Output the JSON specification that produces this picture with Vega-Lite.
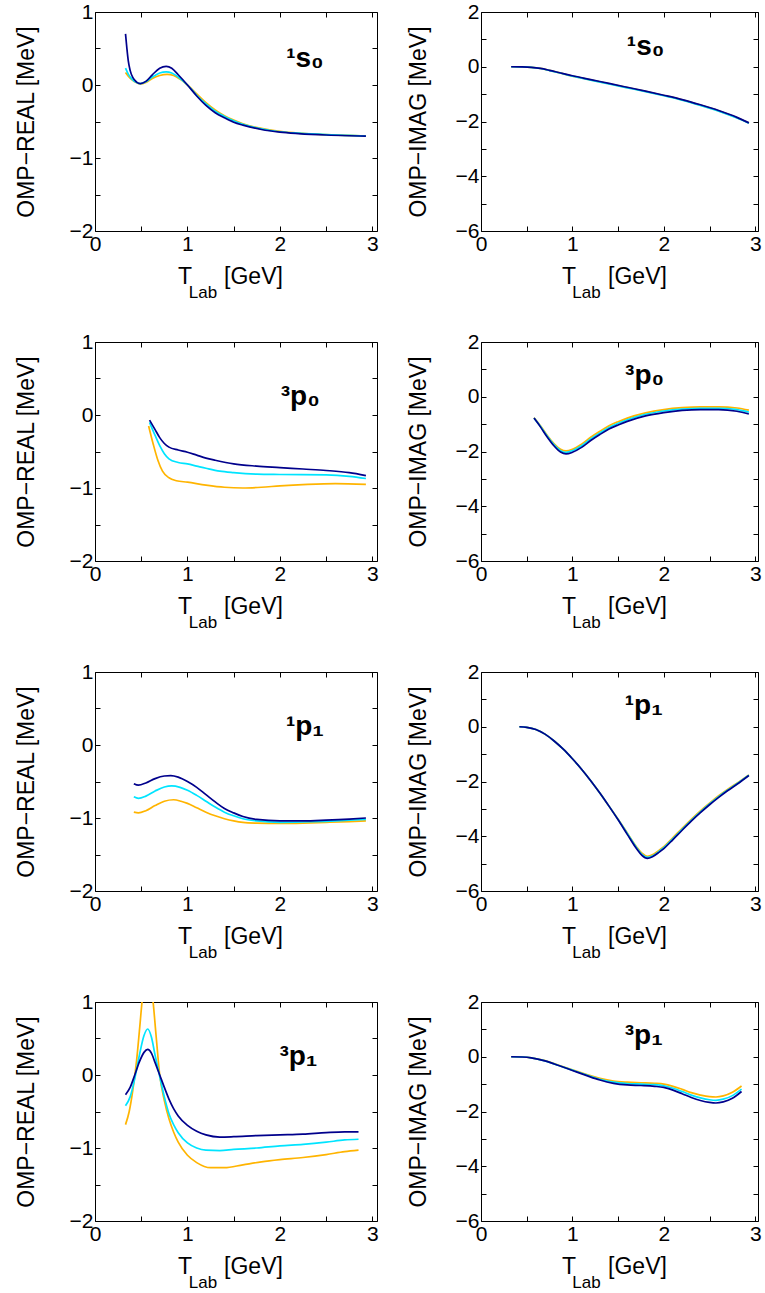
{
  "$schema": "https://vega.github.io/schema/vega-lite/v6.json",
  "padding": {"left": 14, "top": 0, "right": 0, "bottom": 0},
  "background": "white",
  "data": {"values": [
    {"p":1,"s":"a","T":0.33,"V":0.17},{"p":1,"s":"a","T":0.36,"V":0.12},{"p":1,"s":"a","T":0.4,"V":0.07},{"p":1,"s":"a","T":0.45,"V":0.03},{"p":1,"s":"a","T":0.49,"V":0.015},{"p":1,"s":"a","T":0.55,"V":0.035},{"p":1,"s":"a","T":0.62,"V":0.09},{"p":1,"s":"a","T":0.7,"V":0.13},{"p":1,"s":"a","T":0.78,"V":0.145},{"p":1,"s":"a","T":0.85,"V":0.13},{"p":1,"s":"a","T":0.92,"V":0.08},{"p":1,"s":"a","T":1.0,"V":0.0},{"p":1,"s":"a","T":1.1,"V":-0.12},{"p":1,"s":"a","T":1.2,"V":-0.24},{"p":1,"s":"a","T":1.3,"V":-0.34},{"p":1,"s":"a","T":1.4,"V":-0.42},{"p":1,"s":"a","T":1.5,"V":-0.48},{"p":1,"s":"a","T":1.6,"V":-0.53},{"p":1,"s":"a","T":1.8,"V":-0.595},{"p":1,"s":"a","T":2.0,"V":-0.635},{"p":1,"s":"a","T":2.2,"V":-0.66},{"p":1,"s":"a","T":2.5,"V":-0.68},{"p":1,"s":"a","T":2.75,"V":-0.69},{"p":1,"s":"a","T":2.93,"V":-0.7},
    {"p":1,"s":"b","T":0.33,"V":0.23},{"p":1,"s":"b","T":0.36,"V":0.15},{"p":1,"s":"b","T":0.4,"V":0.08},{"p":1,"s":"b","T":0.45,"V":0.035},{"p":1,"s":"b","T":0.49,"V":0.02},{"p":1,"s":"b","T":0.55,"V":0.045},{"p":1,"s":"b","T":0.62,"V":0.11},{"p":1,"s":"b","T":0.7,"V":0.165},{"p":1,"s":"b","T":0.77,"V":0.18},{"p":1,"s":"b","T":0.83,"V":0.165},{"p":1,"s":"b","T":0.9,"V":0.11},{"p":1,"s":"b","T":1.0,"V":0.0},{"p":1,"s":"b","T":1.1,"V":-0.14},{"p":1,"s":"b","T":1.2,"V":-0.26},{"p":1,"s":"b","T":1.3,"V":-0.36},{"p":1,"s":"b","T":1.4,"V":-0.43},{"p":1,"s":"b","T":1.5,"V":-0.49},{"p":1,"s":"b","T":1.6,"V":-0.54},{"p":1,"s":"b","T":1.8,"V":-0.6},{"p":1,"s":"b","T":2.0,"V":-0.64},{"p":1,"s":"b","T":2.2,"V":-0.66},{"p":1,"s":"b","T":2.5,"V":-0.68},{"p":1,"s":"b","T":2.75,"V":-0.69},{"p":1,"s":"b","T":2.93,"V":-0.7},
    {"p":1,"s":"c","T":0.33,"V":0.7},{"p":1,"s":"c","T":0.345,"V":0.5},{"p":1,"s":"c","T":0.36,"V":0.33},{"p":1,"s":"c","T":0.38,"V":0.2},{"p":1,"s":"c","T":0.41,"V":0.1},{"p":1,"s":"c","T":0.45,"V":0.04},{"p":1,"s":"c","T":0.49,"V":0.02},{"p":1,"s":"c","T":0.55,"V":0.05},{"p":1,"s":"c","T":0.62,"V":0.14},{"p":1,"s":"c","T":0.7,"V":0.23},{"p":1,"s":"c","T":0.77,"V":0.255},{"p":1,"s":"c","T":0.83,"V":0.23},{"p":1,"s":"c","T":0.9,"V":0.14},{"p":1,"s":"c","T":1.0,"V":0.0},{"p":1,"s":"c","T":1.1,"V":-0.15},{"p":1,"s":"c","T":1.2,"V":-0.28},{"p":1,"s":"c","T":1.3,"V":-0.38},{"p":1,"s":"c","T":1.4,"V":-0.45},{"p":1,"s":"c","T":1.5,"V":-0.51},{"p":1,"s":"c","T":1.6,"V":-0.55},{"p":1,"s":"c","T":1.8,"V":-0.61},{"p":1,"s":"c","T":2.0,"V":-0.645},{"p":1,"s":"c","T":2.2,"V":-0.665},{"p":1,"s":"c","T":2.5,"V":-0.685},{"p":1,"s":"c","T":2.75,"V":-0.695},{"p":1,"s":"c","T":2.93,"V":-0.7},

    {"p":2,"s":"a","T":0.33,"V":0},{"p":2,"s":"a","T":0.45,"V":-0.005},{"p":2,"s":"a","T":0.55,"V":-0.02},{"p":2,"s":"a","T":0.65,"V":-0.06},{"p":2,"s":"a","T":0.75,"V":-0.135},{"p":2,"s":"a","T":0.85,"V":-0.215},{"p":2,"s":"a","T":1.0,"V":-0.34},{"p":2,"s":"a","T":1.2,"V":-0.48},{"p":2,"s":"a","T":1.4,"V":-0.62},{"p":2,"s":"a","T":1.6,"V":-0.76},{"p":2,"s":"a","T":1.8,"V":-0.9},{"p":2,"s":"a","T":2.0,"V":-1.05},{"p":2,"s":"a","T":2.2,"V":-1.21},{"p":2,"s":"a","T":2.4,"V":-1.4},{"p":2,"s":"a","T":2.6,"V":-1.61},{"p":2,"s":"a","T":2.8,"V":-1.86},{"p":2,"s":"a","T":2.93,"V":-2.05},
    {"p":2,"s":"b","T":0.33,"V":0},{"p":2,"s":"b","T":0.45,"V":-0.005},{"p":2,"s":"b","T":0.55,"V":-0.02},{"p":2,"s":"b","T":0.65,"V":-0.065},{"p":2,"s":"b","T":0.75,"V":-0.14},{"p":2,"s":"b","T":0.85,"V":-0.22},{"p":2,"s":"b","T":1.0,"V":-0.345},{"p":2,"s":"b","T":1.2,"V":-0.49},{"p":2,"s":"b","T":1.4,"V":-0.63},{"p":2,"s":"b","T":1.6,"V":-0.77},{"p":2,"s":"b","T":1.8,"V":-0.91},{"p":2,"s":"b","T":2.0,"V":-1.06},{"p":2,"s":"b","T":2.2,"V":-1.22},{"p":2,"s":"b","T":2.4,"V":-1.41},{"p":2,"s":"b","T":2.6,"V":-1.62},{"p":2,"s":"b","T":2.8,"V":-1.87},{"p":2,"s":"b","T":2.93,"V":-2.06},
    {"p":2,"s":"c","T":0.33,"V":0},{"p":2,"s":"c","T":0.45,"V":-0.005},{"p":2,"s":"c","T":0.55,"V":-0.02},{"p":2,"s":"c","T":0.65,"V":-0.06},{"p":2,"s":"c","T":0.75,"V":-0.13},{"p":2,"s":"c","T":0.85,"V":-0.21},{"p":2,"s":"c","T":1.0,"V":-0.33},{"p":2,"s":"c","T":1.2,"V":-0.47},{"p":2,"s":"c","T":1.4,"V":-0.61},{"p":2,"s":"c","T":1.6,"V":-0.75},{"p":2,"s":"c","T":1.8,"V":-0.89},{"p":2,"s":"c","T":2.0,"V":-1.04},{"p":2,"s":"c","T":2.2,"V":-1.2},{"p":2,"s":"c","T":2.4,"V":-1.39},{"p":2,"s":"c","T":2.6,"V":-1.6},{"p":2,"s":"c","T":2.8,"V":-1.85},{"p":2,"s":"c","T":2.93,"V":-2.05},

    {"p":3,"s":"a","T":0.58,"V":-0.15},{"p":3,"s":"a","T":0.63,"V":-0.4},{"p":3,"s":"a","T":0.68,"V":-0.62},{"p":3,"s":"a","T":0.73,"V":-0.77},{"p":3,"s":"a","T":0.8,"V":-0.86},{"p":3,"s":"a","T":0.88,"V":-0.9},{"p":3,"s":"a","T":1.0,"V":-0.92},{"p":3,"s":"a","T":1.2,"V":-0.96},{"p":3,"s":"a","T":1.4,"V":-0.99},{"p":3,"s":"a","T":1.6,"V":-1.0},{"p":3,"s":"a","T":1.8,"V":-0.99},{"p":3,"s":"a","T":2.0,"V":-0.97},{"p":3,"s":"a","T":2.3,"V":-0.95},{"p":3,"s":"a","T":2.6,"V":-0.94},{"p":3,"s":"a","T":2.93,"V":-0.95},
    {"p":3,"s":"b","T":0.59,"V":-0.1},{"p":3,"s":"b","T":0.65,"V":-0.28},{"p":3,"s":"b","T":0.7,"V":-0.42},{"p":3,"s":"b","T":0.75,"V":-0.53},{"p":3,"s":"b","T":0.8,"V":-0.6},{"p":3,"s":"b","T":0.9,"V":-0.65},{"p":3,"s":"b","T":1.0,"V":-0.67},{"p":3,"s":"b","T":1.1,"V":-0.7},{"p":3,"s":"b","T":1.2,"V":-0.73},{"p":3,"s":"b","T":1.35,"V":-0.77},{"p":3,"s":"b","T":1.5,"V":-0.79},{"p":3,"s":"b","T":1.75,"V":-0.81},{"p":3,"s":"b","T":2.0,"V":-0.815},{"p":3,"s":"b","T":2.5,"V":-0.82},{"p":3,"s":"b","T":2.75,"V":-0.84},{"p":3,"s":"b","T":2.93,"V":-0.87},
    {"p":3,"s":"c","T":0.59,"V":-0.07},{"p":3,"s":"c","T":0.65,"V":-0.2},{"p":3,"s":"c","T":0.7,"V":-0.31},{"p":3,"s":"c","T":0.75,"V":-0.39},{"p":3,"s":"c","T":0.8,"V":-0.44},{"p":3,"s":"c","T":0.9,"V":-0.48},{"p":3,"s":"c","T":1.0,"V":-0.51},{"p":3,"s":"c","T":1.1,"V":-0.55},{"p":3,"s":"c","T":1.2,"V":-0.59},{"p":3,"s":"c","T":1.3,"V":-0.62},{"p":3,"s":"c","T":1.5,"V":-0.67},{"p":3,"s":"c","T":1.75,"V":-0.7},{"p":3,"s":"c","T":2.0,"V":-0.72},{"p":3,"s":"c","T":2.25,"V":-0.74},{"p":3,"s":"c","T":2.5,"V":-0.76},{"p":3,"s":"c","T":2.75,"V":-0.79},{"p":3,"s":"c","T":2.93,"V":-0.83},

    {"p":4,"s":"a","T":0.58,"V":-0.77},{"p":4,"s":"a","T":0.65,"V":-1.06},{"p":4,"s":"a","T":0.72,"V":-1.39},{"p":4,"s":"a","T":0.8,"V":-1.72},{"p":4,"s":"a","T":0.87,"V":-1.92},{"p":4,"s":"a","T":0.93,"V":-1.98},{"p":4,"s":"a","T":1.0,"V":-1.92},{"p":4,"s":"a","T":1.1,"V":-1.73},{"p":4,"s":"a","T":1.2,"V":-1.48},{"p":4,"s":"a","T":1.3,"V":-1.26},{"p":4,"s":"a","T":1.4,"V":-1.06},{"p":4,"s":"a","T":1.5,"V":-0.91},{"p":4,"s":"a","T":1.6,"V":-0.78},{"p":4,"s":"a","T":1.8,"V":-0.59},{"p":4,"s":"a","T":2.0,"V":-0.47},{"p":4,"s":"a","T":2.2,"V":-0.4},{"p":4,"s":"a","T":2.4,"V":-0.37},{"p":4,"s":"a","T":2.6,"V":-0.37},{"p":4,"s":"a","T":2.8,"V":-0.41},{"p":4,"s":"a","T":2.93,"V":-0.49},
    {"p":4,"s":"b","T":0.58,"V":-0.78},{"p":4,"s":"b","T":0.65,"V":-1.08},{"p":4,"s":"b","T":0.72,"V":-1.42},{"p":4,"s":"b","T":0.8,"V":-1.76},{"p":4,"s":"b","T":0.87,"V":-1.97},{"p":4,"s":"b","T":0.93,"V":-2.03},{"p":4,"s":"b","T":1.0,"V":-1.97},{"p":4,"s":"b","T":1.1,"V":-1.79},{"p":4,"s":"b","T":1.2,"V":-1.54},{"p":4,"s":"b","T":1.3,"V":-1.32},{"p":4,"s":"b","T":1.4,"V":-1.12},{"p":4,"s":"b","T":1.5,"V":-0.97},{"p":4,"s":"b","T":1.6,"V":-0.84},{"p":4,"s":"b","T":1.8,"V":-0.64},{"p":4,"s":"b","T":2.0,"V":-0.52},{"p":4,"s":"b","T":2.2,"V":-0.45},{"p":4,"s":"b","T":2.4,"V":-0.42},{"p":4,"s":"b","T":2.6,"V":-0.42},{"p":4,"s":"b","T":2.8,"V":-0.47},{"p":4,"s":"b","T":2.93,"V":-0.56},
    {"p":4,"s":"c","T":0.58,"V":-0.78},{"p":4,"s":"c","T":0.65,"V":-1.1},{"p":4,"s":"c","T":0.72,"V":-1.45},{"p":4,"s":"c","T":0.8,"V":-1.8},{"p":4,"s":"c","T":0.87,"V":-2.02},{"p":4,"s":"c","T":0.93,"V":-2.09},{"p":4,"s":"c","T":1.0,"V":-2.03},{"p":4,"s":"c","T":1.1,"V":-1.85},{"p":4,"s":"c","T":1.2,"V":-1.6},{"p":4,"s":"c","T":1.3,"V":-1.38},{"p":4,"s":"c","T":1.4,"V":-1.18},{"p":4,"s":"c","T":1.5,"V":-1.03},{"p":4,"s":"c","T":1.6,"V":-0.9},{"p":4,"s":"c","T":1.8,"V":-0.7},{"p":4,"s":"c","T":2.0,"V":-0.58},{"p":4,"s":"c","T":2.2,"V":-0.5},{"p":4,"s":"c","T":2.4,"V":-0.47},{"p":4,"s":"c","T":2.6,"V":-0.47},{"p":4,"s":"c","T":2.8,"V":-0.53},{"p":4,"s":"c","T":2.93,"V":-0.63},

    {"p":5,"s":"a","T":0.42,"V":-0.92},{"p":5,"s":"a","T":0.47,"V":-0.93},{"p":5,"s":"a","T":0.55,"V":-0.9},{"p":5,"s":"a","T":0.65,"V":-0.83},{"p":5,"s":"a","T":0.75,"V":-0.77},{"p":5,"s":"a","T":0.85,"V":-0.75},{"p":5,"s":"a","T":0.93,"V":-0.77},{"p":5,"s":"a","T":1.0,"V":-0.8},{"p":5,"s":"a","T":1.1,"V":-0.86},{"p":5,"s":"a","T":1.2,"V":-0.92},{"p":5,"s":"a","T":1.3,"V":-0.97},{"p":5,"s":"a","T":1.4,"V":-1.01},{"p":5,"s":"a","T":1.5,"V":-1.04},{"p":5,"s":"a","T":1.6,"V":-1.06},{"p":5,"s":"a","T":1.75,"V":-1.07},{"p":5,"s":"a","T":2.0,"V":-1.075},{"p":5,"s":"a","T":2.25,"V":-1.07},{"p":5,"s":"a","T":2.5,"V":-1.06},{"p":5,"s":"a","T":2.75,"V":-1.05},{"p":5,"s":"a","T":2.93,"V":-1.04},
    {"p":5,"s":"b","T":0.42,"V":-0.71},{"p":5,"s":"b","T":0.47,"V":-0.73},{"p":5,"s":"b","T":0.55,"V":-0.7},{"p":5,"s":"b","T":0.65,"V":-0.63},{"p":5,"s":"b","T":0.75,"V":-0.575},{"p":5,"s":"b","T":0.83,"V":-0.56},{"p":5,"s":"b","T":0.92,"V":-0.58},{"p":5,"s":"b","T":1.0,"V":-0.62},{"p":5,"s":"b","T":1.1,"V":-0.69},{"p":5,"s":"b","T":1.2,"V":-0.77},{"p":5,"s":"b","T":1.3,"V":-0.85},{"p":5,"s":"b","T":1.4,"V":-0.92},{"p":5,"s":"b","T":1.5,"V":-0.97},{"p":5,"s":"b","T":1.6,"V":-1.01},{"p":5,"s":"b","T":1.75,"V":-1.04},{"p":5,"s":"b","T":2.0,"V":-1.06},{"p":5,"s":"b","T":2.25,"V":-1.055},{"p":5,"s":"b","T":2.5,"V":-1.045},{"p":5,"s":"b","T":2.75,"V":-1.03},{"p":5,"s":"b","T":2.93,"V":-1.02},
    {"p":5,"s":"c","T":0.42,"V":-0.53},{"p":5,"s":"c","T":0.47,"V":-0.55},{"p":5,"s":"c","T":0.55,"V":-0.52},{"p":5,"s":"c","T":0.65,"V":-0.46},{"p":5,"s":"c","T":0.75,"V":-0.425},{"p":5,"s":"c","T":0.82,"V":-0.42},{"p":5,"s":"c","T":0.9,"V":-0.44},{"p":5,"s":"c","T":1.0,"V":-0.5},{"p":5,"s":"c","T":1.1,"V":-0.58},{"p":5,"s":"c","T":1.2,"V":-0.68},{"p":5,"s":"c","T":1.3,"V":-0.78},{"p":5,"s":"c","T":1.4,"V":-0.87},{"p":5,"s":"c","T":1.5,"V":-0.93},{"p":5,"s":"c","T":1.6,"V":-0.98},{"p":5,"s":"c","T":1.75,"V":-1.02},{"p":5,"s":"c","T":2.0,"V":-1.04},{"p":5,"s":"c","T":2.25,"V":-1.04},{"p":5,"s":"c","T":2.5,"V":-1.03},{"p":5,"s":"c","T":2.75,"V":-1.015},{"p":5,"s":"c","T":2.93,"V":-1.0},

    {"p":6,"s":"a","T":0.42,"V":0},{"p":6,"s":"a","T":0.5,"V":-0.02},{"p":6,"s":"a","T":0.6,"V":-0.1},{"p":6,"s":"a","T":0.7,"V":-0.27},{"p":6,"s":"a","T":0.8,"V":-0.52},{"p":6,"s":"a","T":0.9,"V":-0.82},{"p":6,"s":"a","T":1.0,"V":-1.17},{"p":6,"s":"a","T":1.1,"V":-1.55},{"p":6,"s":"a","T":1.2,"V":-1.97},{"p":6,"s":"a","T":1.3,"V":-2.42},{"p":6,"s":"a","T":1.4,"V":-2.9},{"p":6,"s":"a","T":1.5,"V":-3.38},{"p":6,"s":"a","T":1.6,"V":-3.88},{"p":6,"s":"a","T":1.7,"V":-4.38},{"p":6,"s":"a","T":1.76,"V":-4.62},{"p":6,"s":"a","T":1.82,"V":-4.73},{"p":6,"s":"a","T":1.88,"V":-4.67},{"p":6,"s":"a","T":1.95,"V":-4.51},{"p":6,"s":"a","T":2.0,"V":-4.38},{"p":6,"s":"a","T":2.1,"V":-4.05},{"p":6,"s":"a","T":2.2,"V":-3.71},{"p":6,"s":"a","T":2.3,"V":-3.38},{"p":6,"s":"a","T":2.4,"V":-3.07},{"p":6,"s":"a","T":2.5,"V":-2.79},{"p":6,"s":"a","T":2.6,"V":-2.52},{"p":6,"s":"a","T":2.7,"V":-2.28},{"p":6,"s":"a","T":2.8,"V":-2.06},{"p":6,"s":"a","T":2.93,"V":-1.76},
    {"p":6,"s":"b","T":0.42,"V":0},{"p":6,"s":"b","T":0.5,"V":-0.02},{"p":6,"s":"b","T":0.6,"V":-0.1},{"p":6,"s":"b","T":0.7,"V":-0.27},{"p":6,"s":"b","T":0.8,"V":-0.52},{"p":6,"s":"b","T":0.9,"V":-0.82},{"p":6,"s":"b","T":1.0,"V":-1.17},{"p":6,"s":"b","T":1.1,"V":-1.55},{"p":6,"s":"b","T":1.2,"V":-1.97},{"p":6,"s":"b","T":1.3,"V":-2.42},{"p":6,"s":"b","T":1.4,"V":-2.9},{"p":6,"s":"b","T":1.5,"V":-3.39},{"p":6,"s":"b","T":1.6,"V":-3.9},{"p":6,"s":"b","T":1.7,"V":-4.41},{"p":6,"s":"b","T":1.76,"V":-4.66},{"p":6,"s":"b","T":1.82,"V":-4.77},{"p":6,"s":"b","T":1.88,"V":-4.71},{"p":6,"s":"b","T":1.95,"V":-4.55},{"p":6,"s":"b","T":2.0,"V":-4.42},{"p":6,"s":"b","T":2.1,"V":-4.09},{"p":6,"s":"b","T":2.2,"V":-3.75},{"p":6,"s":"b","T":2.3,"V":-3.42},{"p":6,"s":"b","T":2.4,"V":-3.11},{"p":6,"s":"b","T":2.5,"V":-2.82},{"p":6,"s":"b","T":2.6,"V":-2.55},{"p":6,"s":"b","T":2.7,"V":-2.31},{"p":6,"s":"b","T":2.8,"V":-2.08},{"p":6,"s":"b","T":2.93,"V":-1.77},
    {"p":6,"s":"c","T":0.42,"V":0},{"p":6,"s":"c","T":0.5,"V":-0.02},{"p":6,"s":"c","T":0.6,"V":-0.1},{"p":6,"s":"c","T":0.7,"V":-0.27},{"p":6,"s":"c","T":0.8,"V":-0.52},{"p":6,"s":"c","T":0.9,"V":-0.82},{"p":6,"s":"c","T":1.0,"V":-1.17},{"p":6,"s":"c","T":1.1,"V":-1.55},{"p":6,"s":"c","T":1.2,"V":-1.97},{"p":6,"s":"c","T":1.3,"V":-2.42},{"p":6,"s":"c","T":1.4,"V":-2.9},{"p":6,"s":"c","T":1.5,"V":-3.4},{"p":6,"s":"c","T":1.6,"V":-3.93},{"p":6,"s":"c","T":1.7,"V":-4.45},{"p":6,"s":"c","T":1.76,"V":-4.7},{"p":6,"s":"c","T":1.82,"V":-4.81},{"p":6,"s":"c","T":1.88,"V":-4.74},{"p":6,"s":"c","T":1.95,"V":-4.58},{"p":6,"s":"c","T":2.0,"V":-4.45},{"p":6,"s":"c","T":2.1,"V":-4.12},{"p":6,"s":"c","T":2.2,"V":-3.78},{"p":6,"s":"c","T":2.3,"V":-3.45},{"p":6,"s":"c","T":2.4,"V":-3.14},{"p":6,"s":"c","T":2.5,"V":-2.85},{"p":6,"s":"c","T":2.6,"V":-2.58},{"p":6,"s":"c","T":2.7,"V":-2.33},{"p":6,"s":"c","T":2.8,"V":-2.1},{"p":6,"s":"c","T":2.93,"V":-1.78},

    {"p":7,"s":"a","T":0.33,"V":-0.68},{"p":7,"s":"a","T":0.37,"V":-0.5},{"p":7,"s":"a","T":0.41,"V":-0.2},{"p":7,"s":"a","T":0.45,"V":0.2},{"p":7,"s":"a","T":0.48,"V":0.6},{"p":7,"s":"a","T":0.51,"V":1.02},{"p":7,"s":"a","T":0.54,"V":1.35},{"p":7,"s":"a","T":0.57,"V":1.45},{"p":7,"s":"a","T":0.6,"V":1.3},{"p":7,"s":"a","T":0.63,"V":0.98},{"p":7,"s":"a","T":0.66,"V":0.55},{"p":7,"s":"a","T":0.7,"V":0.0},{"p":7,"s":"a","T":0.75,"V":-0.35},{"p":7,"s":"a","T":0.8,"V":-0.6},{"p":7,"s":"a","T":0.85,"V":-0.78},{"p":7,"s":"a","T":0.9,"V":-0.92},{"p":7,"s":"a","T":1.0,"V":-1.1},{"p":7,"s":"a","T":1.1,"V":-1.2},{"p":7,"s":"a","T":1.25,"V":-1.27},{"p":7,"s":"a","T":1.4,"V":-1.27},{"p":7,"s":"a","T":1.6,"V":-1.23},{"p":7,"s":"a","T":1.8,"V":-1.19},{"p":7,"s":"a","T":2.0,"V":-1.16},{"p":7,"s":"a","T":2.25,"V":-1.13},{"p":7,"s":"a","T":2.5,"V":-1.09},{"p":7,"s":"a","T":2.7,"V":-1.05},{"p":7,"s":"a","T":2.85,"V":-1.03},
    {"p":7,"s":"b","T":0.33,"V":-0.42},{"p":7,"s":"b","T":0.38,"V":-0.3},{"p":7,"s":"b","T":0.43,"V":-0.05},{"p":7,"s":"b","T":0.48,"V":0.27},{"p":7,"s":"b","T":0.53,"V":0.54},{"p":7,"s":"b","T":0.57,"V":0.63},{"p":7,"s":"b","T":0.61,"V":0.52},{"p":7,"s":"b","T":0.65,"V":0.27},{"p":7,"s":"b","T":0.7,"V":-0.02},{"p":7,"s":"b","T":0.75,"V":-0.3},{"p":7,"s":"b","T":0.8,"V":-0.53},{"p":7,"s":"b","T":0.85,"V":-0.68},{"p":7,"s":"b","T":0.9,"V":-0.79},{"p":7,"s":"b","T":1.0,"V":-0.93},{"p":7,"s":"b","T":1.1,"V":-1.0},{"p":7,"s":"b","T":1.2,"V":-1.03},{"p":7,"s":"b","T":1.35,"V":-1.035},{"p":7,"s":"b","T":1.5,"V":-1.02},{"p":7,"s":"b","T":1.75,"V":-1.0},{"p":7,"s":"b","T":2.0,"V":-0.97},{"p":7,"s":"b","T":2.25,"V":-0.95},{"p":7,"s":"b","T":2.5,"V":-0.92},{"p":7,"s":"b","T":2.7,"V":-0.89},{"p":7,"s":"b","T":2.85,"V":-0.88},
    {"p":7,"s":"c","T":0.33,"V":-0.27},{"p":7,"s":"c","T":0.38,"V":-0.17},{"p":7,"s":"c","T":0.43,"V":0.0},{"p":7,"s":"c","T":0.48,"V":0.18},{"p":7,"s":"c","T":0.53,"V":0.31},{"p":7,"s":"c","T":0.57,"V":0.35},{"p":7,"s":"c","T":0.61,"V":0.3},{"p":7,"s":"c","T":0.65,"V":0.17},{"p":7,"s":"c","T":0.7,"V":0.0},{"p":7,"s":"c","T":0.75,"V":-0.17},{"p":7,"s":"c","T":0.8,"V":-0.33},{"p":7,"s":"c","T":0.85,"V":-0.46},{"p":7,"s":"c","T":0.9,"V":-0.56},{"p":7,"s":"c","T":1.0,"V":-0.69},{"p":7,"s":"c","T":1.1,"V":-0.77},{"p":7,"s":"c","T":1.2,"V":-0.82},{"p":7,"s":"c","T":1.35,"V":-0.85},{"p":7,"s":"c","T":1.5,"V":-0.845},{"p":7,"s":"c","T":1.75,"V":-0.83},{"p":7,"s":"c","T":2.0,"V":-0.82},{"p":7,"s":"c","T":2.25,"V":-0.81},{"p":7,"s":"c","T":2.5,"V":-0.79},{"p":7,"s":"c","T":2.7,"V":-0.78},{"p":7,"s":"c","T":2.85,"V":-0.78},

    {"p":8,"s":"a","T":0.33,"V":0},{"p":8,"s":"a","T":0.45,"V":-0.01},{"p":8,"s":"a","T":0.55,"V":-0.04},{"p":8,"s":"a","T":0.7,"V":-0.14},{"p":8,"s":"a","T":0.85,"V":-0.31},{"p":8,"s":"a","T":1.0,"V":-0.48},{"p":8,"s":"a","T":1.15,"V":-0.64},{"p":8,"s":"a","T":1.3,"V":-0.79},{"p":8,"s":"a","T":1.45,"V":-0.89},{"p":8,"s":"a","T":1.6,"V":-0.93},{"p":8,"s":"a","T":1.75,"V":-0.95},{"p":8,"s":"a","T":1.9,"V":-0.97},{"p":8,"s":"a","T":2.0,"V":-1.0},{"p":8,"s":"a","T":2.1,"V":-1.08},{"p":8,"s":"a","T":2.2,"V":-1.19},{"p":8,"s":"a","T":2.3,"V":-1.31},{"p":8,"s":"a","T":2.4,"V":-1.4},{"p":8,"s":"a","T":2.5,"V":-1.46},{"p":8,"s":"a","T":2.57,"V":-1.47},{"p":8,"s":"a","T":2.65,"V":-1.43},{"p":8,"s":"a","T":2.75,"V":-1.3},{"p":8,"s":"a","T":2.85,"V":-1.07},
    {"p":8,"s":"b","T":0.33,"V":0},{"p":8,"s":"b","T":0.45,"V":-0.01},{"p":8,"s":"b","T":0.55,"V":-0.04},{"p":8,"s":"b","T":0.7,"V":-0.15},{"p":8,"s":"b","T":0.85,"V":-0.32},{"p":8,"s":"b","T":1.0,"V":-0.49},{"p":8,"s":"b","T":1.15,"V":-0.66},{"p":8,"s":"b","T":1.3,"V":-0.82},{"p":8,"s":"b","T":1.45,"V":-0.93},{"p":8,"s":"b","T":1.6,"V":-0.98},{"p":8,"s":"b","T":1.75,"V":-1.0},{"p":8,"s":"b","T":1.9,"V":-1.02},{"p":8,"s":"b","T":2.0,"V":-1.06},{"p":8,"s":"b","T":2.1,"V":-1.15},{"p":8,"s":"b","T":2.2,"V":-1.27},{"p":8,"s":"b","T":2.3,"V":-1.4},{"p":8,"s":"b","T":2.4,"V":-1.5},{"p":8,"s":"b","T":2.5,"V":-1.57},{"p":8,"s":"b","T":2.57,"V":-1.59},{"p":8,"s":"b","T":2.65,"V":-1.55},{"p":8,"s":"b","T":2.75,"V":-1.42},{"p":8,"s":"b","T":2.85,"V":-1.18},
    {"p":8,"s":"c","T":0.33,"V":0},{"p":8,"s":"c","T":0.45,"V":-0.01},{"p":8,"s":"c","T":0.55,"V":-0.04},{"p":8,"s":"c","T":0.7,"V":-0.15},{"p":8,"s":"c","T":0.85,"V":-0.32},{"p":8,"s":"c","T":1.0,"V":-0.5},{"p":8,"s":"c","T":1.15,"V":-0.68},{"p":8,"s":"c","T":1.3,"V":-0.85},{"p":8,"s":"c","T":1.45,"V":-0.97},{"p":8,"s":"c","T":1.6,"V":-1.03},{"p":8,"s":"c","T":1.75,"V":-1.05},{"p":8,"s":"c","T":1.9,"V":-1.08},{"p":8,"s":"c","T":2.0,"V":-1.12},{"p":8,"s":"c","T":2.1,"V":-1.22},{"p":8,"s":"c","T":2.2,"V":-1.35},{"p":8,"s":"c","T":2.3,"V":-1.49},{"p":8,"s":"c","T":2.4,"V":-1.6},{"p":8,"s":"c","T":2.5,"V":-1.67},{"p":8,"s":"c","T":2.57,"V":-1.69},{"p":8,"s":"c","T":2.65,"V":-1.65},{"p":8,"s":"c","T":2.75,"V":-1.52},{"p":8,"s":"c","T":2.85,"V":-1.27}
  ]},
  "config": {
    "view": {"stroke": "black", "strokeWidth": 1},
    "font": "Liberation Sans",
    "axis": {"labelFont": "Liberation Sans", "labelFontSize": 21, "labelColor": "black", "labelPadding": 7, "labelFlush": false, "labelOverlap": false, "titleFont": "Liberation Sans", "titleFontSize": 23, "titleFontWeight": "normal", "titleColor": "black", "tickColor": "black", "tickSize": -5, "tickWidth": 1, "domain": false, "grid": false, "format": "d"},
    "axisX": {"titlePadding": 11},
    "title": {"orient": "bottom", "anchor": "middle", "frame": "group", "font": "Liberation Sans", "fontSize": 17, "fontWeight": "normal", "color": "black", "offset": -3, "dx": -33},
    "text": {"font": "Liberation Sans", "fontSize": 28, "fontWeight": "bold", "align": "center", "baseline": "alphabetic", "color": "black"}
  },
  "columns": 2,
  "bounds": "flush",
  "spacing": {"row": 111, "column": 104},
  "concat": [
    {"width": 282, "height": 219, "title": "Lab",
     "layer": [
      {"transform": [{"filter": "datum.p === 1"}], "mark": {"type": "line", "clip": true, "strokeWidth": 1.7, "interpolate": "monotone"},
       "encoding": {
        "x": {"field": "T", "type": "quantitative", "scale": {"domain": [0, 3.05], "nice": false, "zero": false}, "axis": {"orient": "bottom", "values": [0,0.5,1,1.5,2,2.5,3], "labelExpr": "datum.value % 1 === 0 ? datum.label : ''", "title": "T\u00a0\u00a0\u00a0\u00a0\u00a0[GeV]", "titleX": 135}},
        "y": {"field": "V", "type": "quantitative", "scale": {"domain": [-2, 1], "nice": false, "zero": false}, "axis": {"orient": "left", "values": [-2,-1.5,-1,-0.5,0,0.5,1], "labelExpr": "datum.value % 1 === 0 ? datum.label : ''", "title": "OMP−REAL [MeV]", "titlePadding": 31}},
        "color": {"field": "s", "type": "nominal", "scale": {"domain": ["a","b","c"], "range": ["#FFB400","#00E4FF","#00008C"]}, "legend": null}
       }},
      {"data": {"values": [{"label": "¹s₀"}]}, "mark": "text",
       "encoding": {
        "text": {"field": "label"},
        "x": {"datum": 2.27, "type": "quantitative", "scale": {"domain": [0, 3.05], "nice": false, "zero": false}, "axis": {"orient": "top", "values": [0,0.5,1,1.5,2,2.5,3], "labels": false, "title": null}},
        "y": {"datum": 0.25, "type": "quantitative", "scale": {"domain": [-2, 1], "nice": false, "zero": false}, "axis": {"orient": "right", "values": [-2,-1.5,-1,-0.5,0,0.5,1], "labels": false, "title": null}}
       }}
     ],
     "resolve": {"axis": {"x": "independent", "y": "independent"}}},
    {"width": 277, "height": 219, "title": "Lab",
     "layer": [
      {"transform": [{"filter": "datum.p === 2"}], "mark": {"type": "line", "clip": true, "strokeWidth": 1.7, "interpolate": "monotone"},
       "encoding": {
        "x": {"field": "T", "type": "quantitative", "scale": {"domain": [0, 3.03], "nice": false, "zero": false}, "axis": {"orient": "bottom", "values": [0,0.5,1,1.5,2,2.5,3], "labelExpr": "datum.value % 1 === 0 ? datum.label : ''", "title": "T\u00a0\u00a0\u00a0\u00a0\u00a0[GeV]", "titleX": 133}},
        "y": {"field": "V", "type": "quantitative", "scale": {"domain": [-6, 2], "nice": false, "zero": false}, "axis": {"orient": "left", "values": [-6,-5,-4,-3,-2,-1,0,1,2], "labelExpr": "datum.value % 2 === 0 ? datum.label : ''", "title": "OMP−IMAG [MeV]", "titlePadding": 25}},
        "color": {"field": "s", "type": "nominal", "scale": {"domain": ["a","b","c"], "range": ["#FFB400","#00E4FF","#00008C"]}, "legend": null}
       }},
      {"data": {"values": [{"label": "¹s₀"}]}, "mark": "text",
       "encoding": {
        "text": {"field": "label"},
        "x": {"datum": 1.8, "type": "quantitative", "scale": {"domain": [0, 3.03], "nice": false, "zero": false}, "axis": {"orient": "top", "values": [0,0.5,1,1.5,2,2.5,3], "labels": false, "title": null}},
        "y": {"datum": 0.44, "type": "quantitative", "scale": {"domain": [-6, 2], "nice": false, "zero": false}, "axis": {"orient": "right", "values": [-6,-5,-4,-3,-2,-1,0,1,2], "labels": false, "title": null}}
       }}
     ],
     "resolve": {"axis": {"x": "independent", "y": "independent"}}},
    {"width": 282, "height": 219, "title": "Lab",
     "layer": [
      {"transform": [{"filter": "datum.p === 3"}], "mark": {"type": "line", "clip": true, "strokeWidth": 1.7, "interpolate": "monotone"},
       "encoding": {
        "x": {"field": "T", "type": "quantitative", "scale": {"domain": [0, 3.05], "nice": false, "zero": false}, "axis": {"orient": "bottom", "values": [0,0.5,1,1.5,2,2.5,3], "labelExpr": "datum.value % 1 === 0 ? datum.label : ''", "title": "T\u00a0\u00a0\u00a0\u00a0\u00a0[GeV]", "titleX": 135}},
        "y": {"field": "V", "type": "quantitative", "scale": {"domain": [-2, 1], "nice": false, "zero": false}, "axis": {"orient": "left", "values": [-2,-1.5,-1,-0.5,0,0.5,1], "labelExpr": "datum.value % 1 === 0 ? datum.label : ''", "title": "OMP−REAL [MeV]", "titlePadding": 31}},
        "color": {"field": "s", "type": "nominal", "scale": {"domain": ["a","b","c"], "range": ["#FFB400","#00E4FF","#00008C"]}, "legend": null}
       }},
      {"data": {"values": [{"label": "³p₀"}]}, "mark": "text",
       "encoding": {
        "text": {"field": "label"},
        "x": {"datum": 2.22, "type": "quantitative", "scale": {"domain": [0, 3.05], "nice": false, "zero": false}, "axis": {"orient": "top", "values": [0,0.5,1,1.5,2,2.5,3], "labels": false, "title": null}},
        "y": {"datum": 0.14, "type": "quantitative", "scale": {"domain": [-2, 1], "nice": false, "zero": false}, "axis": {"orient": "right", "values": [-2,-1.5,-1,-0.5,0,0.5,1], "labels": false, "title": null}}
       }}
     ],
     "resolve": {"axis": {"x": "independent", "y": "independent"}}},
    {"width": 277, "height": 219, "title": "Lab",
     "layer": [
      {"transform": [{"filter": "datum.p === 4"}], "mark": {"type": "line", "clip": true, "strokeWidth": 1.7, "interpolate": "monotone"},
       "encoding": {
        "x": {"field": "T", "type": "quantitative", "scale": {"domain": [0, 3.03], "nice": false, "zero": false}, "axis": {"orient": "bottom", "values": [0,0.5,1,1.5,2,2.5,3], "labelExpr": "datum.value % 1 === 0 ? datum.label : ''", "title": "T\u00a0\u00a0\u00a0\u00a0\u00a0[GeV]", "titleX": 133}},
        "y": {"field": "V", "type": "quantitative", "scale": {"domain": [-6, 2], "nice": false, "zero": false}, "axis": {"orient": "left", "values": [-6,-5,-4,-3,-2,-1,0,1,2], "labelExpr": "datum.value % 2 === 0 ? datum.label : ''", "title": "OMP−IMAG [MeV]", "titlePadding": 25}},
        "color": {"field": "s", "type": "nominal", "scale": {"domain": ["a","b","c"], "range": ["#FFB400","#00E4FF","#00008C"]}, "legend": null}
       }},
      {"data": {"values": [{"label": "³p₀"}]}, "mark": "text",
       "encoding": {
        "text": {"field": "label"},
        "x": {"datum": 1.79, "type": "quantitative", "scale": {"domain": [0, 3.03], "nice": false, "zero": false}, "axis": {"orient": "top", "values": [0,0.5,1,1.5,2,2.5,3], "labels": false, "title": null}},
        "y": {"datum": 0.48, "type": "quantitative", "scale": {"domain": [-6, 2], "nice": false, "zero": false}, "axis": {"orient": "right", "values": [-6,-5,-4,-3,-2,-1,0,1,2], "labels": false, "title": null}}
       }}
     ],
     "resolve": {"axis": {"x": "independent", "y": "independent"}}},
    {"width": 282, "height": 219, "title": "Lab",
     "layer": [
      {"transform": [{"filter": "datum.p === 5"}], "mark": {"type": "line", "clip": true, "strokeWidth": 1.7, "interpolate": "monotone"},
       "encoding": {
        "x": {"field": "T", "type": "quantitative", "scale": {"domain": [0, 3.05], "nice": false, "zero": false}, "axis": {"orient": "bottom", "values": [0,0.5,1,1.5,2,2.5,3], "labelExpr": "datum.value % 1 === 0 ? datum.label : ''", "title": "T\u00a0\u00a0\u00a0\u00a0\u00a0[GeV]", "titleX": 135}},
        "y": {"field": "V", "type": "quantitative", "scale": {"domain": [-2, 1], "nice": false, "zero": false}, "axis": {"orient": "left", "values": [-2,-1.5,-1,-0.5,0,0.5,1], "labelExpr": "datum.value % 1 === 0 ? datum.label : ''", "title": "OMP−REAL [MeV]", "titlePadding": 31}},
        "color": {"field": "s", "type": "nominal", "scale": {"domain": ["a","b","c"], "range": ["#FFB400","#00E4FF","#00008C"]}, "legend": null}
       }},
      {"data": {"values": [{"label": "¹p₁"}]}, "mark": "text",
       "encoding": {
        "text": {"field": "label"},
        "x": {"datum": 2.27, "type": "quantitative", "scale": {"domain": [0, 3.05], "nice": false, "zero": false}, "axis": {"orient": "top", "values": [0,0.5,1,1.5,2,2.5,3], "labels": false, "title": null}},
        "y": {"datum": 0.14, "type": "quantitative", "scale": {"domain": [-2, 1], "nice": false, "zero": false}, "axis": {"orient": "right", "values": [-2,-1.5,-1,-0.5,0,0.5,1], "labels": false, "title": null}}
       }}
     ],
     "resolve": {"axis": {"x": "independent", "y": "independent"}}},
    {"width": 277, "height": 219, "title": "Lab",
     "layer": [
      {"transform": [{"filter": "datum.p === 6"}], "mark": {"type": "line", "clip": true, "strokeWidth": 1.7, "interpolate": "monotone"},
       "encoding": {
        "x": {"field": "T", "type": "quantitative", "scale": {"domain": [0, 3.03], "nice": false, "zero": false}, "axis": {"orient": "bottom", "values": [0,0.5,1,1.5,2,2.5,3], "labelExpr": "datum.value % 1 === 0 ? datum.label : ''", "title": "T\u00a0\u00a0\u00a0\u00a0\u00a0[GeV]", "titleX": 133}},
        "y": {"field": "V", "type": "quantitative", "scale": {"domain": [-6, 2], "nice": false, "zero": false}, "axis": {"orient": "left", "values": [-6,-5,-4,-3,-2,-1,0,1,2], "labelExpr": "datum.value % 2 === 0 ? datum.label : ''", "title": "OMP−IMAG [MeV]", "titlePadding": 25}},
        "color": {"field": "s", "type": "nominal", "scale": {"domain": ["a","b","c"], "range": ["#FFB400","#00E4FF","#00008C"]}, "legend": null}
       }},
      {"data": {"values": [{"label": "¹p₁"}]}, "mark": "text",
       "encoding": {
        "text": {"field": "label"},
        "x": {"datum": 1.78, "type": "quantitative", "scale": {"domain": [0, 3.03], "nice": false, "zero": false}, "axis": {"orient": "top", "values": [0,0.5,1,1.5,2,2.5,3], "labels": false, "title": null}},
        "y": {"datum": 0.48, "type": "quantitative", "scale": {"domain": [-6, 2], "nice": false, "zero": false}, "axis": {"orient": "right", "values": [-6,-5,-4,-3,-2,-1,0,1,2], "labels": false, "title": null}}
       }}
     ],
     "resolve": {"axis": {"x": "independent", "y": "independent"}}},
    {"width": 282, "height": 219, "title": "Lab",
     "layer": [
      {"transform": [{"filter": "datum.p === 7"}], "mark": {"type": "line", "clip": true, "strokeWidth": 1.7, "interpolate": "monotone"},
       "encoding": {
        "x": {"field": "T", "type": "quantitative", "scale": {"domain": [0, 3.05], "nice": false, "zero": false}, "axis": {"orient": "bottom", "values": [0,0.5,1,1.5,2,2.5,3], "labelExpr": "datum.value % 1 === 0 ? datum.label : ''", "title": "T\u00a0\u00a0\u00a0\u00a0\u00a0[GeV]", "titleX": 135}},
        "y": {"field": "V", "type": "quantitative", "scale": {"domain": [-2, 1], "nice": false, "zero": false}, "axis": {"orient": "left", "values": [-2,-1.5,-1,-0.5,0,0.5,1], "labelExpr": "datum.value % 1 === 0 ? datum.label : ''", "title": "OMP−REAL [MeV]", "titlePadding": 31}},
        "color": {"field": "s", "type": "nominal", "scale": {"domain": ["a","b","c"], "range": ["#FFB400","#00E4FF","#00008C"]}, "legend": null}
       }},
      {"data": {"values": [{"label": "³p₁"}]}, "mark": "text",
       "encoding": {
        "text": {"field": "label"},
        "x": {"datum": 2.2, "type": "quantitative", "scale": {"domain": [0, 3.05], "nice": false, "zero": false}, "axis": {"orient": "top", "values": [0,0.5,1,1.5,2,2.5,3], "labels": false, "title": null}},
        "y": {"datum": 0.14, "type": "quantitative", "scale": {"domain": [-2, 1], "nice": false, "zero": false}, "axis": {"orient": "right", "values": [-2,-1.5,-1,-0.5,0,0.5,1], "labels": false, "title": null}}
       }}
     ],
     "resolve": {"axis": {"x": "independent", "y": "independent"}}},
    {"width": 277, "height": 219, "title": "Lab",
     "layer": [
      {"transform": [{"filter": "datum.p === 8"}], "mark": {"type": "line", "clip": true, "strokeWidth": 1.7, "interpolate": "monotone"},
       "encoding": {
        "x": {"field": "T", "type": "quantitative", "scale": {"domain": [0, 3.03], "nice": false, "zero": false}, "axis": {"orient": "bottom", "values": [0,0.5,1,1.5,2,2.5,3], "labelExpr": "datum.value % 1 === 0 ? datum.label : ''", "title": "T\u00a0\u00a0\u00a0\u00a0\u00a0[GeV]", "titleX": 133}},
        "y": {"field": "V", "type": "quantitative", "scale": {"domain": [-6, 2], "nice": false, "zero": false}, "axis": {"orient": "left", "values": [-6,-5,-4,-3,-2,-1,0,1,2], "labelExpr": "datum.value % 2 === 0 ? datum.label : ''", "title": "OMP−IMAG [MeV]", "titlePadding": 25}},
        "color": {"field": "s", "type": "nominal", "scale": {"domain": ["a","b","c"], "range": ["#FFB400","#00E4FF","#00008C"]}, "legend": null}
       }},
      {"data": {"values": [{"label": "³p₁"}]}, "mark": "text",
       "encoding": {
        "text": {"field": "label"},
        "x": {"datum": 1.78, "type": "quantitative", "scale": {"domain": [0, 3.03], "nice": false, "zero": false}, "axis": {"orient": "top", "values": [0,0.5,1,1.5,2,2.5,3], "labels": false, "title": null}},
        "y": {"datum": 0.48, "type": "quantitative", "scale": {"domain": [-6, 2], "nice": false, "zero": false}, "axis": {"orient": "right", "values": [-6,-5,-4,-3,-2,-1,0,1,2], "labels": false, "title": null}}
       }}
     ],
     "resolve": {"axis": {"x": "independent", "y": "independent"}}}
  ]
}
